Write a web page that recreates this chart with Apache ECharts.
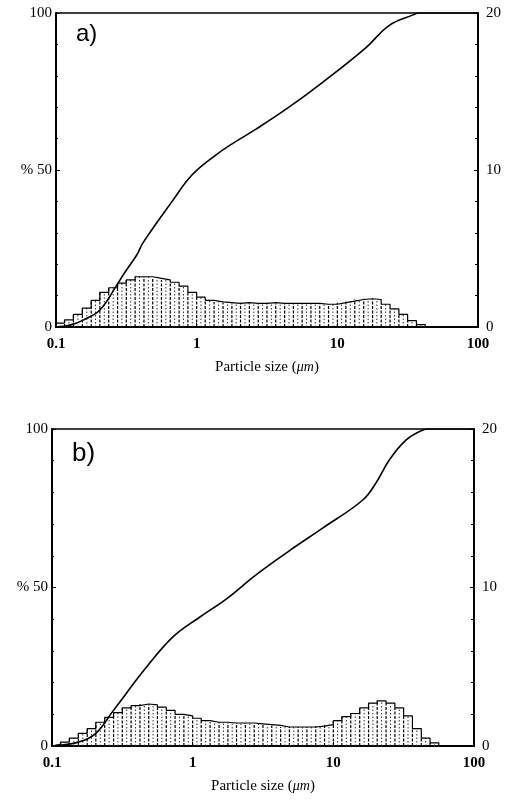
<!DOCTYPE html>
<html><head><meta charset="utf-8">
<script src="https://cdn.jsdelivr.net/npm/echarts@6/dist/echarts.min.js"></script>
<style>html,body{margin:0;padding:0;background:#fff}#c{width:512px;height:800px}</style>
</head><body><div id="c"></div>
<script>
// Histogram bin edges (particle size, µm)
const binEdges = [0.1, 0.115, 0.133, 0.154, 0.178, 0.205, 0.237, 0.274, 0.316, 0.365, 0.422, 0.487, 0.562, 0.649, 0.750, 0.866,
  1.0, 1.15, 1.33, 1.54, 1.78, 2.05, 2.37, 2.74, 3.16, 3.65, 4.22, 4.87, 5.62, 6.49, 7.50, 8.66,
  10, 11.5, 13.3, 15.4, 17.8, 20.5, 23.7, 27.4, 31.6, 36.5, 42.2, 48.7, 56.2, 64.9, 75.0, 86.6, 100];
// Frequency per bin (right axis, %)
const freqA = [0.25, 0.45, 0.8, 1.2, 1.7, 2.2, 2.5, 2.8, 3.0, 3.2, 3.2, 3.1, 3.0, 2.85, 2.6, 2.2,
  1.9, 1.7, 1.6, 1.55, 1.5, 1.55, 1.5, 1.5, 1.55, 1.5, 1.5, 1.5, 1.5, 1.5, 1.45, 1.45,
  1.55, 1.65, 1.75, 1.8, 1.75, 1.45, 1.15, 0.8, 0.4, 0.15, 0, 0, 0, 0, 0, 0];
const freqB = [0.1, 0.25, 0.5, 0.8, 1.1, 1.5, 1.8, 2.1, 2.4, 2.55, 2.65, 2.6, 2.45, 2.25, 2.0, 1.9,
  1.75, 1.6, 1.5, 1.5, 1.45, 1.45, 1.45, 1.4, 1.35, 1.3, 1.2, 1.2, 1.2, 1.2, 1.25, 1.35,
  1.6, 1.85, 2.05, 2.4, 2.7, 2.85, 2.7, 2.4, 1.9, 1.1, 0.5, 0.2, 0, 0, 0, 0];
// Cumulative curves (left axis, %)
const cumSizeA = [0.1, 0.126, 0.156, 0.205, 0.271, 0.31, 0.376, 0.415, 0.679, 0.926, 1.39, 1.81, 2.64, 4.53, 7.9, 16.0, 23.3, 34.5, 38, 100];
const cumPctA  = [0, 0.6, 2.2, 5.4, 13.4, 17.5, 23, 26.8, 40.4, 48.4, 55, 58.5, 63, 70, 78, 89, 96, 99.4, 100, 100];
const cumSizeB = [0.1, 0.156, 0.205, 0.271, 0.336, 0.443, 0.724, 1.127, 1.75, 2.82, 4.83, 8.44, 16.2, 20.1, 24.8, 32.8, 43.3, 47.8, 100];
const cumPctB  = [0, 1.3, 4, 11, 16.5, 23.5, 34.4, 40.7, 46.5, 54, 61.5, 68.8, 77.6, 83, 90, 96.5, 99.7, 100, 100];
const xTickLabels = {'0.1': '0.1', '1': '1', '10': '10', '100': '100'};
const leftTickLabels = {'0': '0', '50': '% 50', '100': '100'};
const rightTickLabels = {'0': '0', '10': '10', '20': '20'};
const panelLabels = ['a)', 'b)'];

const SERIF = 'Liberation Serif, Times New Roman, serif';
const chart = echarts.init(document.getElementById('c'), null, {renderer: 'canvas'});

const grids = [
  {left: 56, top: 13, width: 422, height: 314},
  {left: 52, top: 429, width: 422, height: 317}
];

function stepData(freq) {
  const d = [[binEdges[0], 0]];
  for (let i = 0; i < freq.length; i++) d.push([binEdges[i], freq[i]]);
  d.push([binEdges[freq.length], 0]);
  return d;
}
function binData(freq) {
  return freq.map((h, i) => [binEdges[i], binEdges[i + 1], h]);
}
function hatch(params, api) {
  const x0 = api.value(0), x1 = api.value(1), h = api.value(2);
  if (!(h > 0)) return;
  const xm = Math.sqrt(x0 * x1);
  const a0 = api.coord([x0, 0]), a1 = api.coord([x0, h]);
  const m0 = api.coord([xm, 0]), m1 = api.coord([xm, h]);
  return {type: 'group', children: [
    {type: 'line', shape: {x1: a0[0], y1: a0[1], x2: a1[0], y2: a1[1]}, style: {stroke: '#000', lineWidth: 1.2, lineDash: [3, 1.5]}},
    {type: 'line', shape: {x1: m0[0], y1: m0[1], x2: m1[0], y2: m1[1]}, style: {stroke: '#333', lineWidth: 1, lineDash: [1.5, 2]}}
  ]};
}

const xAxes = [], yAxes = [], series = [];
[0, 1].forEach(g => {
  xAxes.push({
    type: 'log', logBase: 10, min: 0.1, max: 100, gridIndex: g,
    axisLine: {show: true, lineStyle: {color: '#000', width: 2}},
    axisTick: {show: true, inside: true, length: 4, lineStyle: {color: '#000'}},
    splitLine: {show: false},
    axisLabel: {color: '#000', fontFamily: SERIF, fontSize: 15, fontWeight: 'bold', margin: 10,
      formatter: v => xTickLabels[String(+v.toPrecision(3))] || ''},
    name: 'Particle size ({i|μm})', nameLocation: 'middle', nameGap: 33,
    nameTextStyle: {color: '#000', fontFamily: SERIF, fontSize: 15,
      rich: {i: {fontFamily: SERIF, fontStyle: 'italic', fontSize: 14, color: '#000'}}}
  });
  yAxes.push({
    type: 'value', min: 0, max: 100, interval: 50, gridIndex: g, position: 'left',
    axisLine: {show: true, lineStyle: {color: '#000', width: 2}},
    axisTick: {show: true, inside: true, length: 4, lineStyle: {color: '#000'}},
    minorTick: {show: true, splitNumber: 5, length: 2, lineStyle: {color: '#000'}},
    splitLine: {show: false},
    axisLabel: {color: '#000', fontFamily: SERIF, fontSize: 15, margin: 4,
      formatter: v => leftTickLabels[String(v)] || ''}
  });
  yAxes.push({
    type: 'value', min: 0, max: 20, interval: 10, gridIndex: g, position: 'right',
    axisLine: {show: true, lineStyle: {color: '#000', width: 2}},
    axisTick: {show: true, inside: true, length: 4, lineStyle: {color: '#000'}},
    minorTick: {show: true, splitNumber: 5, length: 3, lineStyle: {color: '#000'}},
    splitLine: {show: false},
    axisLabel: {color: '#000', fontFamily: SERIF, fontSize: 15, margin: 8,
      formatter: v => rightTickLabels[String(v)] || ''}
  });
  const freq = g === 0 ? freqA : freqB;
  const cs = g === 0 ? cumSizeA : cumSizeB;
  const cp = g === 0 ? cumPctA : cumPctB;
  series.push({
    type: 'custom', xAxisIndex: g, yAxisIndex: g * 2 + 1, renderItem: hatch,
    encode: {x: [0, 1], y: 2}, data: binData(freq), silent: true, z: 2
  });
  series.push({
    type: 'line', xAxisIndex: g, yAxisIndex: g * 2 + 1, step: 'end', data: stepData(freq),
    showSymbol: false, lineStyle: {color: '#000', width: 1.2}, z: 3, silent: true
  });
  series.push({
    type: 'line', xAxisIndex: g, yAxisIndex: g * 2, data: cs.map((s, i) => [s, cp[i]]),
    smooth: 0.4, showSymbol: false, lineStyle: {color: '#000', width: 1.6}, z: 4, silent: true, clip: true
  });
});

chart.setOption({
  backgroundColor: '#fff',
  animation: false,
  grid: grids.map(g => Object.assign({show: true, borderColor: '#000', borderWidth: 1.5, backgroundColor: 'transparent'}, g)),
  xAxis: xAxes,
  yAxis: yAxes,
  series: series,
  graphic: [
    {type: 'text', left: 76, top: 22, style: {text: panelLabels[0], fontFamily: 'Liberation Sans Narrow, Liberation Sans, sans-serif', fontSize: 24, fill: '#000'}},
    {type: 'text', left: 72, top: 441, style: {text: panelLabels[1], fontFamily: 'Liberation Sans Narrow, Liberation Sans, sans-serif', fontSize: 26, fill: '#000'}}
  ]
});
</script></body></html>
